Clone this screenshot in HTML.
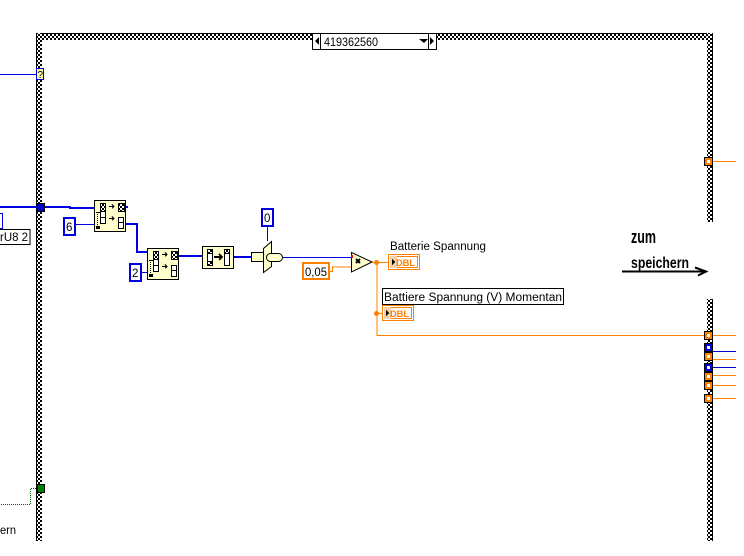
<!DOCTYPE html>
<html><head><meta charset="utf-8"><style>html,body{margin:0;padding:0;background:#fff}svg{display:block}text{font-family:"Liberation Sans",sans-serif;fill:#000}</style></head><body>
<svg width="744" height="556" viewBox="0 0 744 556" shape-rendering="crispEdges">
<defs>
<pattern id="c" width="4" height="4" patternUnits="userSpaceOnUse"><rect width="4" height="4" fill="#fff"/><rect width="2" height="2" fill="#000"/><rect x="2" y="2" width="2" height="2" fill="#000"/></pattern>
<g id="split">
<rect width="31" height="31" fill="#ffffcc" stroke="#000" x=".5" y=".5"/>
<rect x="6.500" y="3.500" width="5" height="8" fill="url(#c)" stroke="#000"/>
<rect x="6.500" y="11.500" width="5" height="12" fill="#fff" stroke="#000"/><line x1="6" x2="12" y1="17.500" y2="17.500" stroke="#000"/>
<rect x="24.500" y="3.500" width="6" height="8" fill="url(#c)" stroke="#000"/>
<rect x="24.500" y="17.500" width="5" height="11" fill="#fff" stroke="#000"/><line x1="24" x2="30" y1="22.500" y2="22.500" stroke="#000"/>
<path d="M15 6.500h5M18 4.500l2 2-2 2M15 18.500h5M18 16.500l2 2-2 2" stroke="#000" fill="none"/>
<path d="M3.500 12v13" stroke="#000" stroke-dasharray="1 1" fill="none"/><path d="M2 12.500h4" stroke="#000"/>
<rect x="2" y="26" width="4" height="3" fill="#000"/>
</g>
</defs>

<!-- Frame -->
<rect x="36" y="33" width="677" height="7" fill="url(#c)"/>
<rect x="36" y="33" width="677" height="1" fill="#000"/>
<rect x="36" y="33" width="6" height="508" fill="url(#c)"/>
<rect x="36" y="33" width="1" height="508" fill="#000"/>
<rect x="707" y="33" width="6" height="189" fill="url(#c)"/>
<rect x="712" y="33" width="1" height="189" fill="#000"/>
<rect x="707" y="299" width="6" height="242" fill="url(#c)"/>
<rect x="712" y="299" width="1" height="242" fill="#000"/>

<!-- Selector -->
<rect x="312.500" y="33.500" width="124" height="16" fill="#fff" stroke="#000"/>
<path d="M320.500 33v16M428.500 33v16" stroke="#000"/>
<path d="M319 37v8l-4-4zM430 37v8l4-4zM419 39h9l-4 4z" fill="#000" shape-rendering="auto"/>
<text x="324" y="46" font-size="11.500" textLength="54" lengthAdjust="spacingAndGlyphs">419362560</text>

<!-- Left side -->
<path d="M0 74.500h36" stroke="#0000e0"/>
<rect x="36.500" y="68.500" width="7" height="11" fill="#ffffa8" stroke="#0000e0"/>
<text x="37.500" y="78" font-size="10">?</text>

<path d="M0 207h37" stroke="#0000e0" stroke-width="2"/>
<rect x="37.500" y="203.500" width="7" height="8" fill="#0000c8" stroke="#000"/>
<path d="M45 207h25v1h24M126 207h2" stroke="#0000e0" stroke-width="2" fill="none"/>
<rect x="-3" y="213.500" width="5.500" height="15" fill="#fff" stroke="#0000e0"/>
<rect x="-3" y="229.500" width="33" height="15" fill="#fff" stroke="#000"/>
<text x="0" y="241" font-size="11.500" textLength="28" lengthAdjust="spacingAndGlyphs">rU8 2</text>

<rect x="37.500" y="484.500" width="7" height="8" fill="#008000" stroke="#000"/>
<path d="M36 488.500h-5.500v16H0" stroke="#006000" fill="none" stroke-dasharray="1 1"/>
<text x="0" y="534" font-size="11.500" textLength="16" lengthAdjust="spacingAndGlyphs">ern</text>

<!-- Wires -->
<path d="M76 224.500h18M142 272.500h5M267.500 227v14" stroke="#0000e0" fill="none"/>
<path d="M126 224h11v28h10M179 256h23M234 257h17" stroke="#0000e0" stroke-width="2" fill="none"/>
<path d="M283 257.500h68" stroke="#0000e0" fill="none"/>

<!-- Constants -->
<rect x="64" y="218" width="11" height="17" fill="#fff" stroke="#0000e0" stroke-width="2"/>
<text x="66" y="231" font-size="11.500">6</text>
<rect x="130" y="264" width="11" height="17" fill="#fff" stroke="#0000e0" stroke-width="2"/>
<text x="132" y="277" font-size="11.500">2</text>
<rect x="262" y="209" width="11" height="17" fill="#fff" stroke="#0000e0" stroke-width="2"/>
<text x="264" y="222" font-size="11.500">0</text>
<rect x="303" y="263" width="26" height="16" fill="#fff" stroke="#ff8000" stroke-width="2"/>
<text x="305" y="276" font-size="11.500" textLength="22" lengthAdjust="spacingAndGlyphs">0,05</text>

<!-- Array nodes -->
<use href="#split" x="94" y="200"/>
<use href="#split" x="147" y="248"/>
<rect x="202.500" y="246.500" width="31" height="22" fill="#ffffcc" stroke="#000"/>
<rect x="207.500" y="249.500" width="5" height="16" fill="#fff" stroke="#000"/>
<rect x="207.500" y="249.500" width="5" height="4" fill="url(#c)" stroke="#000"/>
<rect x="207.500" y="261.500" width="5" height="4" fill="url(#c)" stroke="#000"/>
<rect x="224.500" y="249.500" width="5" height="16" fill="#fff" stroke="#000"/>
<rect x="224.500" y="249.500" width="5" height="4" fill="url(#c)" stroke="#000"/>
<path d="M214 257h8M219 254l3 3-3 3" stroke="#000" stroke-width="2" fill="none"/>

<!-- Selector/build primitive -->
<g shape-rendering="auto" stroke="#000" fill="#ffffcc">
<rect x="251.500" y="252.500" width="13" height="9"/>
<path d="M263.500 248.500L271.500 241.500V266.500L263.500 272.500Z"/>
<rect x="266.500" y="253.500" width="16" height="8" rx="4"/>
</g>

<!-- Multiply -->
<path d="M330 271.500h2.500v-4.500H351" stroke="#ff8000" fill="none"/>
<path d="M351.500 252.500L372 262L351.500 272Z" fill="#ffffcc" stroke="#000" shape-rendering="auto"/>
<rect x="351" y="255" width="2" height="3" fill="#f00"/>
<path d="M356 259l4 4m0-4l-4 4" stroke="#000" stroke-width="2" shape-rendering="auto"/>

<!-- Orange wires -->
<path d="M372 262.500h17M377 262v73.500H704M377 313.500h6M713 335.500h23M713 161.500h23M713 359.500h23M713 375.500h23M713 385.500h23M713 398.500h23" stroke="#ff8000" fill="none"/>
<path d="M713 351.500h23M713 367.500h23" stroke="#0000c8" fill="none"/>
<circle cx="376.500" cy="262.500" r="2.500" fill="#ff8000" shape-rendering="auto"/>
<circle cx="376.500" cy="313.500" r="2.500" fill="#ff8000" shape-rendering="auto"/>

<!-- DBL indicators -->
<rect x="388.500" y="254.500" width="31" height="15" fill="#fff" stroke="#ff8000"/>
<rect x="390.500" y="256.500" width="27" height="11" fill="#fff" stroke="#ff8000"/>
<rect x="390" y="256" width="7" height="12" fill="#fad0a8"/>
<path d="M392 259v6l3-3z" fill="#000"/>
<text x="396" y="266" font-size="9.500" font-weight="bold" style="fill:#ff8000" textLength="19" lengthAdjust="spacingAndGlyphs">DBL</text>
<rect x="382.500" y="305.500" width="31" height="15" fill="#fff" stroke="#ff8000"/>
<rect x="384.500" y="307.500" width="27" height="11" fill="#fff" stroke="#ff8000"/>
<rect x="384" y="307" width="7" height="12" fill="#fad0a8"/>
<path d="M386 310v6l3-3z" fill="#000"/>
<text x="390" y="317" font-size="9.500" font-weight="bold" style="fill:#ff8000" textLength="19" lengthAdjust="spacingAndGlyphs">DBL</text>

<!-- Labels -->
<text x="390" y="250" font-size="11.500" textLength="96" lengthAdjust="spacingAndGlyphs">Batterie Spannung</text>
<rect x="382.500" y="288.500" width="181" height="16" fill="#fff" stroke="#000"/>
<text x="384" y="301" font-size="11.500" textLength="178" lengthAdjust="spacingAndGlyphs">Battiere Spannung (V) Momentan</text>

<!-- Right terminals -->
<g stroke="#000" stroke-width="1">
<rect x="704.500" y="157.500" width="8" height="8" fill="#ff8000"/>
<rect x="704.500" y="331.500" width="8" height="8" fill="#ff8000"/>
<rect x="704.500" y="343.500" width="8" height="8" fill="#0000e0"/>
<rect x="704.500" y="352.500" width="8" height="8" fill="#ff8000"/>
<rect x="704.500" y="363.500" width="8" height="8" fill="#0000e0"/>
<rect x="704.500" y="372.500" width="8" height="8" fill="#ff8000"/>
<rect x="704.500" y="381.500" width="8" height="8" fill="#ff8000"/>
<rect x="704.500" y="394.500" width="8" height="8" fill="#ff8000"/>
</g>
<g fill="#fff">
<rect x="707" y="160" width="3" height="3"/><rect x="707" y="334" width="3" height="3"/><rect x="707" y="346" width="3" height="3"/><rect x="707" y="355" width="3" height="3"/><rect x="707" y="366" width="3" height="3"/><rect x="707" y="375" width="3" height="3"/><rect x="707" y="384" width="3" height="3"/><rect x="707" y="397" width="3" height="3"/>
</g>

<!-- Note -->
<text x="631" y="243" font-size="18" font-weight="bold" textLength="25" lengthAdjust="spacingAndGlyphs">zum</text>
<text x="631" y="268" font-size="16" font-weight="bold" textLength="58" lengthAdjust="spacingAndGlyphs">speichern</text>
<path d="M622 271.500h85M695 267.500l11 4-8 4" stroke="#000" stroke-width="2" fill="none" shape-rendering="auto"/>
</svg>
</body></html>
